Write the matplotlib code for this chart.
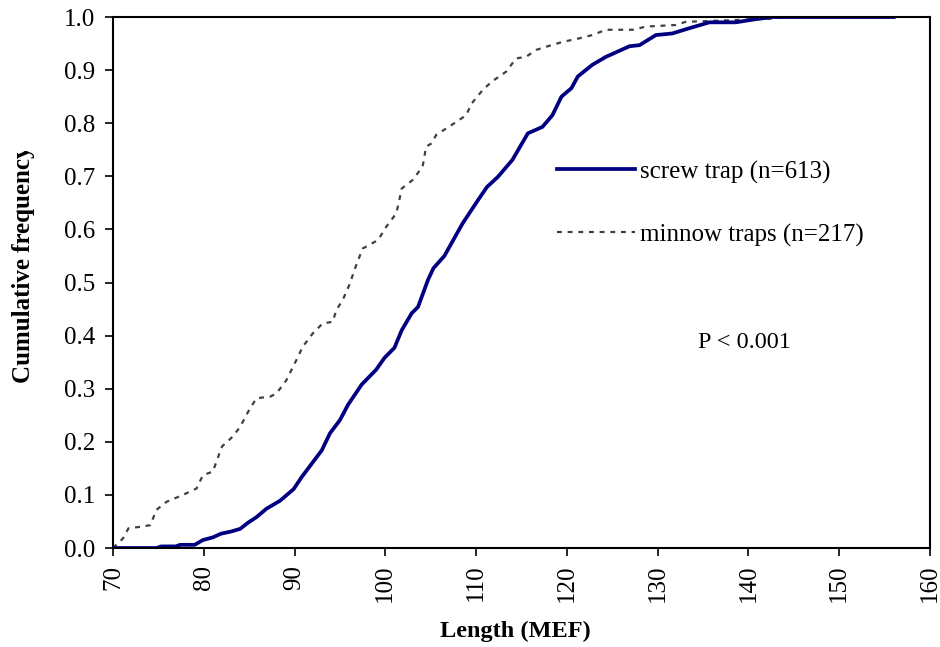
import matplotlib
matplotlib.use("Agg")
import matplotlib.pyplot as plt
from matplotlib.transforms import Bbox

plt.rcParams["font.family"] = ["Liberation Serif", "DejaVu Serif"]

# screw trap cumulative frequency
screw_len = [70, 74.8, 75.3, 76.9, 77.4, 79.0, 79.9, 81.0, 81.9, 83.0, 84.0, 84.9,
             85.8, 86.9, 88.4, 89.9, 90.8, 91.9, 93.0, 93.9, 95.0, 95.9, 97.4, 99.0,
             99.9, 101.0, 101.8, 102.9, 103.6, 104.7, 105.3, 106.5, 108.5, 110.2,
             111.2, 112.4, 114.0, 115.7, 117.3, 118.4, 119.4, 120.5, 121.2, 122.8,
             124.3, 126.9, 128.0, 129.8, 131.6, 133.5, 135.7, 138.6, 140.8, 142.7, 156]
screw_cf = [0, 0, 0.003, 0.003, 0.006, 0.006, 0.015, 0.02, 0.027, 0.031, 0.036, 0.048,
            0.058, 0.074, 0.089, 0.111, 0.134, 0.159, 0.184, 0.216, 0.241, 0.27, 0.308, 0.336,
            0.358, 0.377, 0.41, 0.442, 0.454, 0.505, 0.527, 0.55, 0.611, 0.655,
            0.68, 0.699, 0.731, 0.781, 0.793, 0.815, 0.85, 0.866, 0.888, 0.91,
            0.925, 0.945, 0.947, 0.966, 0.969, 0.979, 0.99, 0.99, 0.996, 1.0, 1.0]

# minnow traps cumulative frequency
minnow_len = [70, 71.1, 71.7, 73, 74.1, 74.8, 75.9, 77.7, 79.2, 79.9, 81, 82, 83.2, 84,
              84.9, 85.8, 87.3, 88.0, 89.1, 90.2, 90.9, 92.0, 93.1, 94.2, 94.6, 95.3,
              96.1, 96.6, 97.5, 99.2, 100.1, 101.2, 101.5, 101.8, 103.0, 104.1, 104.5,
              105.1, 105.6, 107.6, 108.9, 109.5, 110.7, 111.7, 113.3, 114.4, 115.5,
              116.6, 117.7, 119.5, 121.4, 122.8, 124.3, 127.3, 128.7, 132.0, 133.1,
              138.2, 142.7, 144, 156]
minnow_cf = [0, 0.018, 0.037, 0.04, 0.043, 0.072, 0.087, 0.1, 0.112, 0.137, 0.144, 0.191,
             0.21, 0.228, 0.257, 0.282, 0.285, 0.291, 0.316, 0.354, 0.379, 0.404, 0.423,
             0.426, 0.448, 0.467, 0.498, 0.524, 0.564, 0.58, 0.605, 0.63, 0.652, 0.677,
             0.693, 0.718, 0.756, 0.762, 0.778, 0.8, 0.815, 0.837, 0.862, 0.878, 0.897,
             0.922, 0.925, 0.938, 0.944, 0.953, 0.96, 0.966, 0.976, 0.976, 0.982, 0.985,
             0.991, 0.994, 0.997, 1.0, 1.0]

x_ticks = list(range(70, 161, 10))
y_ticks = [0.0, 0.1, 0.2, 0.3, 0.4, 0.5, 0.6, 0.7, 0.8, 0.9, 1.0]

fig = plt.figure(figsize=(9.4, 6.47), dpi=100)
ax = fig.add_axes([0.1202, 0.153, 0.8692, 0.8207])

ax.plot(minnow_len, minnow_cf, color="#404040", lw=1.6, dashes=(2.2, 2.6),
        label="minnow traps (n=217)")
ax.plot(screw_len, screw_cf, color="#000080", lw=2.7, label="screw trap (n=613)")

ax.set_xlim(70, 160)
ax.set_ylim(0, 1)
ax.set_xticks(x_ticks)
ax.set_yticks(y_ticks)
ax.set_yticklabels(["%.1f" % v for v in y_ticks])
ax.tick_params(axis="x", labelrotation=90, pad=6)
ax.tick_params(axis="y", pad=7)
ax.tick_params(labelsize=18, direction="out", length=6, width=1.2, colors="black")
for s in ax.spines.values():
    s.set_linewidth(1.5)

ax.set_xlabel("Length (MEF)", fontsize=17.5, fontweight="bold")
ax.xaxis.label.set_va("center")
ax.xaxis.set_label_coords(0.492, -0.158)

# y label is cut off at the top in the original
ylab = fig.text(24, 647 - 264, "Cumulative frequency", transform=None, rotation=90,
                fontsize=18, fontweight="bold", ha="center", va="center")
ylab.set_clip_box(Bbox([[0, 0], [940, 647 - 151]]))
ylab.set_clip_on(True)

handles, labels = ax.get_legend_handles_labels()
ax.legend(handles[::-1], labels[::-1], loc="upper left",
          bbox_to_anchor=(0.5926, 0.752), bbox_transform=fig.transFigure,
          frameon=False, fontsize=18, handlelength=3.1, handletextpad=0.2,
          labelspacing=1.6, borderpad=0, borderaxespad=0)

ax.text(744, 647 - 343, "P < 0.001", transform=None, fontsize=17.5,
        ha="center", va="center")

fig.savefig("out.png", dpi=100)
